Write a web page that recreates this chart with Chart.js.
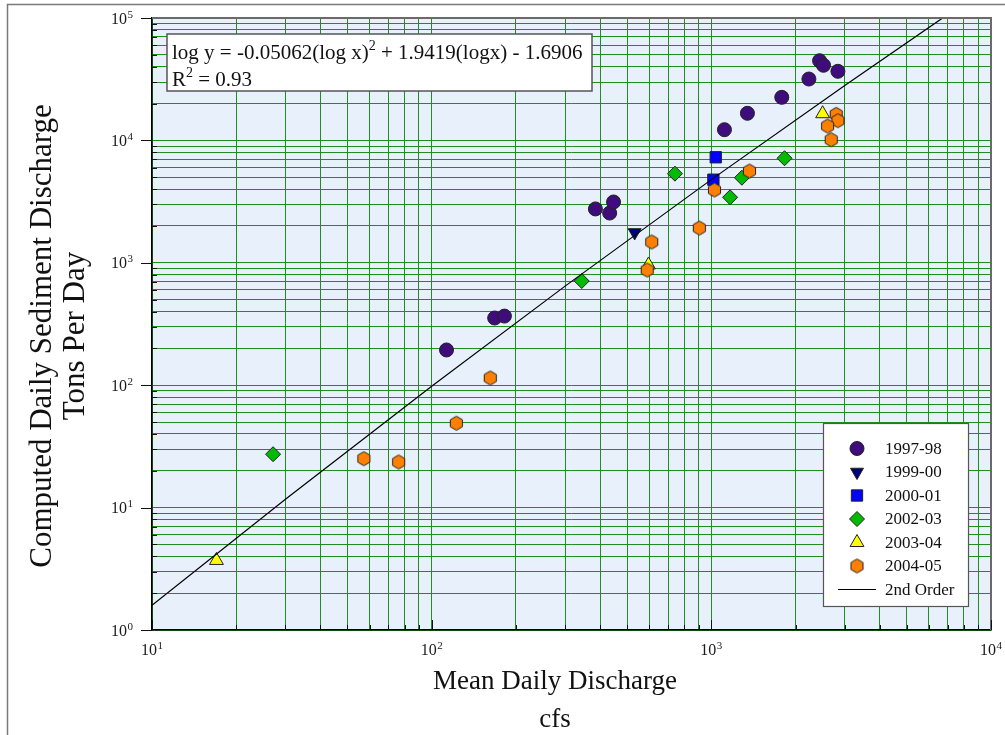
<!DOCTYPE html>
<html>
<head>
<meta charset="utf-8">
<script src="https://cdn.jsdelivr.net/npm/chart.js@4.4.1/dist/chart.umd.min.js"></script>
<style>
  html, body { margin: 0; padding: 0; background: #fff; }
  canvas { display: block; }
</style>
</head>
<body>
<canvas id="chart" width="1005" height="735"></canvas>
<script>
// Sediment rating curve: values

const seriesNames = ['1997-98', '1999-00', '2000-01', '2002-03', '2003-04', '2004-05'];

// mean daily discharge (cfs) / computed sediment discharge (tons per day)
const flow9798 = [113, 168, 182, 385, 433, 447, 1114, 1346, 1786, 2233, 2438, 2518, 2835];
const load9798 = [194, 354, 367, 2755, 2550, 3140, 12230, 16650, 22490, 31730, 44780, 41080, 36680];

const flow9900 = [532];
const load9900 = [1770];

const flow0001 = [1037, 1017];
const load0001 = [7280, 4775];

const flow0203 = [27.1, 344, 741, 1286, 1167, 1827];
const load0203 = [27.3, 710, 5350, 4955, 3428, 7150];

const flow0304 = [17.0, 596, 2500];
const load0304 = [3.7, 960, 16520];

const flow0405 = [57.2, 76.2, 122.5, 162, 612, 590, 906, 1026, 1369, 2796, 2835, 2604, 2684];
const load0405 = [25.1, 23.6, 48.9, 114.6, 1479, 873, 1924, 3935, 5623, 16330, 14490, 13110, 10130];

// 2nd order fit line
const fitLabel = '2nd Order';
const fitFlow = [10, 30, 100, 300, 1000, 3000, 6700];
const fitLoad = [1.59, 11.7, 97.9, 645, 4780, 28140, 99700];

const equationText = ['log y = -0.05062(log x)', '2', ' + 1.9419(logx) - 1.6906'];
const r2Text = ['R', '2', ' = 0.93'];

const xTitle = 'Mean Daily Discharge';
const xUnits = 'cfs';
const yTitle = 'Computed Daily Sediment Discharge';
const yUnits = 'Tons Per Day';

const xMajor = [10, 100, 1000, 10000];
const yMajor = [1, 10, 100, 1000, 10000, 100000];
const minorSteps = [2, 3, 4, 5, 6, 7, 8, 9];

const FONT = '"Liberation Serif", "Times New Roman", serif';

function decadeTicks(majors) {
  const out = [];
  majors.forEach((m, i) => {
    out.push(m);
    if (i < majors.length - 1) minorSteps.forEach(s => out.push(m * s));
  });
  return out;
}

function toPoints(xs, ys) {
  return xs.map((x, i) => ({ x, y: ys[i] }));
}

// hexagon marker (no built-in style for it)
function makeHexagon(r, fill, stroke) {
  const c = document.createElement('canvas');
  const size = Math.ceil(r * 2 + 3);
  c.width = size;
  c.height = size;
  const g = c.getContext('2d');
  g.beginPath();
  for (let k = 0; k < 6; k++) {
    const a = -Math.PI / 2 + k * Math.PI / 3;
    const px = size / 2 + r * Math.cos(a);
    const py = size / 2 + r * Math.sin(a);
    if (k === 0) g.moveTo(px, py); else g.lineTo(px, py);
  }
  g.closePath();
  g.fillStyle = fill;
  g.fill();
  g.strokeStyle = stroke;
  g.lineWidth = 1;
  g.stroke();
  return c;
}

const markerEdge = '#222';
const markerStyles = [
  { pointStyle: 'circle', radius: 7, rotation: 0, color: '#3f0c7c' },
  { pointStyle: 'triangle', radius: 7.5, rotation: 180, color: '#00007f' },
  { pointStyle: 'rect', radius: 8, rotation: 0, color: '#0000ff' },
  { pointStyle: 'rectRot', radius: 7.5, rotation: 0, color: '#00bb00' },
  { pointStyle: 'triangle', radius: 8, rotation: 0, color: '#ffff00' },
  { pointStyle: makeHexagon(7, '#ff8000', markerEdge), radius: 7, rotation: 0, color: '#ff8000' }
];

const seriesData = [
  toPoints(flow9798, load9798),
  toPoints(flow9900, load9900),
  toPoints(flow0001, load0001),
  toPoints(flow0203, load0203),
  toPoints(flow0304, load0304),
  toPoints(flow0405, load0405)
];

const datasets = seriesData.map((pts, i) => ({
  label: seriesNames[i],
  data: pts,
  showLine: false,
  pointStyle: markerStyles[i].pointStyle,
  pointRadius: markerStyles[i].radius,
  pointRotation: markerStyles[i].rotation,
  pointBackgroundColor: markerStyles[i].color,
  pointBorderColor: markerEdge,
  pointBorderWidth: 1,
  order: 10 - i
}));

datasets.push({
  label: fitLabel,
  data: toPoints(fitFlow, fitLoad),
  showLine: true,
  borderColor: '#000',
  borderWidth: 1.2,
  pointRadius: 0,
  fill: false,
  order: 0
});

function powerLabel(ctx, exp, x, y, align) {
  ctx.font = '16px ' + FONT;
  const bw = ctx.measureText('10').width;
  ctx.font = '11px ' + FONT;
  const ew = ctx.measureText(exp).width;
  const total = bw + ew + 0.5;
  const x0 = align === 'center' ? x - total / 2 : x - total;
  ctx.textAlign = 'left';
  ctx.textBaseline = 'alphabetic';
  ctx.font = '16px ' + FONT;
  ctx.fillText('10', x0, y);
  ctx.font = '11px ' + FONT;
  ctx.fillText(exp, x0 + bw + 0.5, y - 6);
}

function supText(ctx, parts, x, y, size) {
  let cx = x;
  parts.forEach((p, i) => {
    const sup = i % 2 === 1;
    ctx.font = (sup ? Math.round(size * 0.65) : size) + 'px ' + FONT;
    ctx.fillText(p, cx, sup ? y - size * 0.42 : y);
    cx += ctx.measureText(p).width;
  });
}

const decor = {
  id: 'decor',
  beforeDraw(chart) {
    const { ctx, chartArea: a } = chart;
    ctx.save();
    ctx.fillStyle = '#fff';
    ctx.fillRect(0, 0, chart.width, chart.height);
    ctx.fillStyle = '#e7f0fb';
    ctx.fillRect(a.left, a.top, a.right - a.left, a.bottom - a.top);
    ctx.restore();
  },
  afterDraw(chart) {
    const { ctx, chartArea: a } = chart;
    const xs = chart.scales.x;
    const ys = chart.scales.y;
    ctx.save();

    // outer frame
    ctx.strokeStyle = '#7a7a7a';
    ctx.lineWidth = 1.5;
    ctx.strokeRect(7.5, 4.5, 1100, 800);

    // top and right edges of the plot
    ctx.strokeStyle = '#6a6a6a';
    ctx.lineWidth = 2;
    ctx.beginPath();
    ctx.moveTo(a.left, a.top);
    ctx.lineTo(a.right, a.top);
    ctx.lineTo(a.right, a.bottom);
    ctx.stroke();

    // tick marks
    ctx.strokeStyle = '#111';
    ctx.lineWidth = 1;
    ctx.beginPath();
    decadeTicks(xMajor).forEach(v => {
      const px = Math.round(xs.getPixelForValue(v)) + 0.5;
      const len = xMajor.includes(v) ? 10 : 5;
      ctx.moveTo(px, a.bottom);
      ctx.lineTo(px, a.bottom - len);
    });
    decadeTicks(yMajor).forEach(v => {
      const py = Math.round(ys.getPixelForValue(v)) + 0.5;
      if (yMajor.includes(v)) {
        ctx.moveTo(a.left - 11, py);
        ctx.lineTo(a.left, py);
      } else {
        ctx.moveTo(a.left, py);
        ctx.lineTo(a.left + 5, py);
      }
    });
    ctx.stroke();

    // tick labels
    ctx.fillStyle = '#1a1a1a';
    xMajor.forEach(v => {
      powerLabel(ctx, String(Math.round(Math.log10(v))), xs.getPixelForValue(v), 655, 'center');
    });
    yMajor.forEach(v => {
      powerLabel(ctx, String(Math.round(Math.log10(v))), 133, ys.getPixelForValue(v) + 5.5, 'right');
    });

    // axis titles
    ctx.fillStyle = '#111';
    ctx.textAlign = 'center';
    ctx.textBaseline = 'alphabetic';
    ctx.font = '27px ' + FONT;
    ctx.fillText(xTitle, 555, 689);
    ctx.fillText(xUnits, 555, 727);
    ctx.font = '31px ' + FONT;
    ctx.save();
    ctx.translate(51, 336);
    ctx.rotate(-Math.PI / 2);
    ctx.fillText(yTitle, 0, 0);
    ctx.restore();
    ctx.save();
    ctx.translate(84, 336);
    ctx.rotate(-Math.PI / 2);
    ctx.fillText(yUnits, 0, 0);
    ctx.restore();

    // equation box
    ctx.fillStyle = '#fff';
    ctx.fillRect(167, 34, 425, 57);
    ctx.strokeStyle = '#555';
    ctx.lineWidth = 1.5;
    ctx.strokeRect(167, 34, 425, 57);
    ctx.fillStyle = '#111';
    ctx.textAlign = 'left';
    supText(ctx, equationText, 172, 59, 21);
    supText(ctx, r2Text, 172, 86, 21);

    // legend
    ctx.fillStyle = '#fff';
    ctx.fillRect(823.5, 423.5, 145, 183);
    ctx.strokeStyle = '#555';
    ctx.lineWidth = 1.2;
    ctx.strokeRect(823.5, 423.5, 145, 183);
    ctx.font = '17px ' + FONT;
    ctx.textBaseline = 'middle';
    const rowY = i => 448.5 + i * 23.5;
    markerStyles.forEach((m, i) => {
      ctx.fillStyle = m.color;
      ctx.strokeStyle = markerEdge;
      ctx.lineWidth = 1;
      Chart.helpers.drawPoint(ctx, {
        pointStyle: m.pointStyle, radius: m.radius, rotation: m.rotation, borderWidth: 1
      }, 857, rowY(i));
      ctx.fillStyle = '#111';
      ctx.fillText(seriesNames[i], 885, rowY(i) + 1);
    });
    ctx.strokeStyle = '#000';
    ctx.lineWidth = 1.2;
    ctx.beginPath();
    ctx.moveTo(838, rowY(6));
    ctx.lineTo(876, rowY(6));
    ctx.stroke();
    ctx.fillStyle = '#111';
    ctx.fillText(fitLabel, 885, rowY(6) + 1);

    ctx.restore();
  }
};

const gridGreen = '#1f8e1f';

new Chart(document.getElementById('chart'), {
  type: 'scatter',
  data: { datasets },
  options: {
    responsive: false,
    animation: false,
    devicePixelRatio: 1,
    layout: { padding: { left: 152, top: 18, right: 14, bottom: 105 } },
    plugins: {
      legend: { display: false },
      tooltip: { enabled: false }
    },
    scales: {
      x: {
        type: 'logarithmic',
        min: 10,
        max: 10000,
        ticks: { display: false, autoSkip: false },
        grid: { color: gridGreen, lineWidth: 1, drawTicks: false },
        border: { display: true, color: '#000', width: 1.5 },
        afterBuildTicks: s => { s.ticks = decadeTicks(xMajor).map(v => ({ value: v })); }
      },
      y: {
        type: 'logarithmic',
        min: 1,
        max: 100000,
        ticks: { display: false, autoSkip: false },
        grid: { color: gridGreen, lineWidth: 1, drawTicks: false },
        border: { display: true, color: '#000', width: 1.5 },
        afterBuildTicks: s => { s.ticks = decadeTicks(yMajor).map(v => ({ value: v })); }
      }
    }
  },
  plugins: [decor]
});
</script>
</body>
</html>
